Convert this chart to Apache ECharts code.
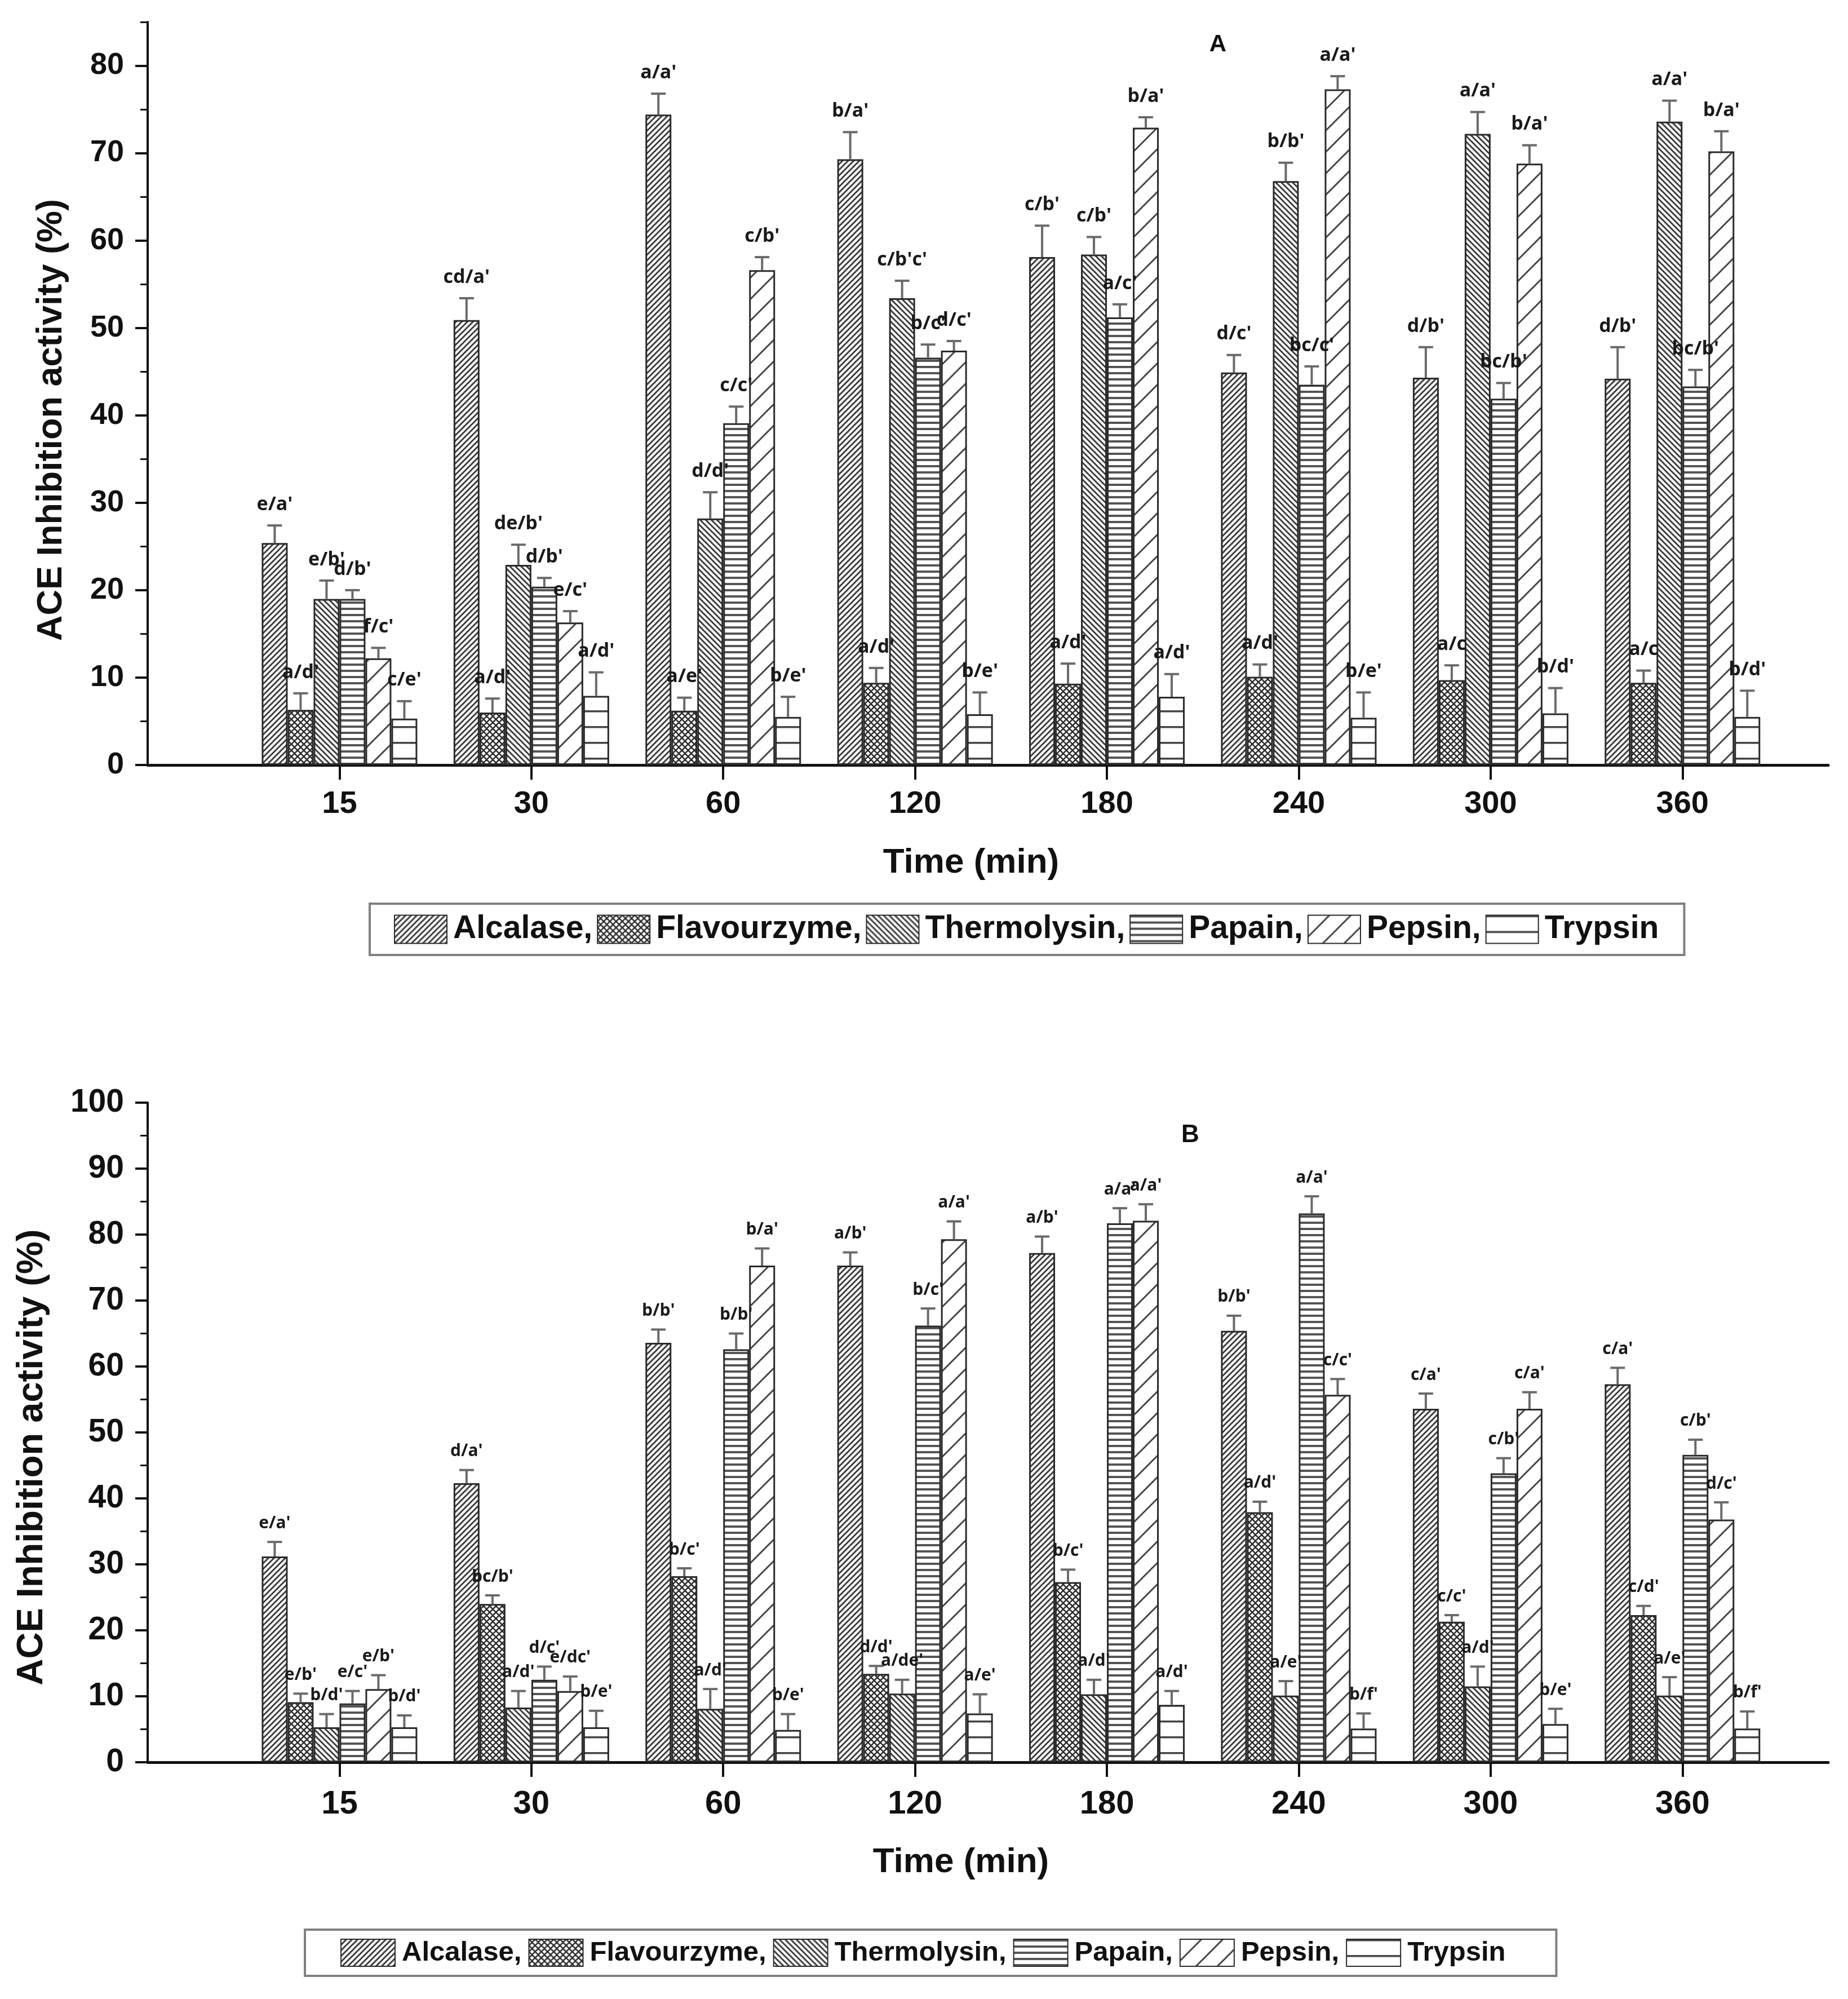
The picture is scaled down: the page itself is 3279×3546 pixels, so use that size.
<!DOCTYPE html>
<html><head><meta charset="utf-8">
<script src="https://cdn.jsdelivr.net/npm/echarts@6/dist/echarts.min.js"></script>
<style>html,body{margin:0;padding:0;background:#fff}#chart{width:3279px;height:3546px}</style>
</head><body><div id="chart"></div>
<script>
// ---------- data ----------
const timeLabels = ['15', '30', '60', '120', '180', '240', '300', '360'];
const enzymes = ['Alcalase', 'Flavourzyme', 'Thermolysin', 'Papain', 'Pepsin', 'Trypsin'];
const yTicksA = [0, 10, 20, 30, 40, 50, 60, 70, 80];
const yTicksB = [0, 10, 20, 30, 40, 50, 60, 70, 80, 90, 100];

// Panel A
const A_alcalase    = [25.4, 50.9, 74.4, 69.3, 58.1, 44.9, 44.3, 44.2];
const A_flavourzyme = [6.3, 6.0, 6.2, 9.4, 9.3, 10.1, 9.7, 9.4];
const A_thermolysin = [19.0, 22.9, 28.2, 53.4, 58.4, 66.8, 72.2, 73.6];
const A_papain      = [19.0, 20.4, 39.1, 46.6, 51.2, 43.5, 41.9, 43.3];
const A_pepsin      = [12.2, 16.3, 56.6, 47.4, 72.9, 77.3, 68.8, 70.2];
const A_trypsin     = [5.3, 7.9, 5.5, 5.8, 7.8, 5.4, 5.9, 5.5];

const A_alcalase_err    = [2.0, 2.5, 2.4, 3.1, 3.6, 2.0, 3.5, 3.6];
const A_flavourzyme_err = [1.9, 1.6, 1.5, 1.7, 2.3, 1.4, 1.7, 1.4];
const A_thermolysin_err = [2.1, 2.3, 3.0, 2.0, 2.0, 2.1, 2.5, 2.4];
const A_papain_err      = [1.0, 1.0, 1.9, 1.5, 1.5, 2.1, 1.8, 1.9];
const A_pepsin_err      = [1.2, 1.3, 1.5, 1.1, 1.2, 1.5, 2.1, 2.3];
const A_trypsin_err     = [2.0, 2.7, 2.3, 2.5, 2.6, 2.9, 2.9, 3.0];

const A_alcalase_sig    = ["e/a'", "cd/a'", "a/a'", "b/a'", "c/b'", "d/c'", "d/b'", "d/b'"];
const A_flavourzyme_sig = ["a/d'", "a/d'", "a/e'", "a/d'", "a/d'", "a/d'", "a/c", "a/c"];
const A_thermolysin_sig = ["e/b'", "de/b'", "d/d'", "c/b'c'", "c/b'", "b/b'", "a/a'", "a/a'"];
const A_papain_sig      = ["d/b'", "d/b'", "c/c'", "b/c'", "a/c'", "bc/c'", "bc/b'", "bc/b'"];
const A_pepsin_sig      = ["f/c'", "e/c'", "c/b'", "d/c'", "b/a'", "a/a'", "b/a'", "b/a'"];
const A_trypsin_sig     = ["c/e'", "a/d'", "b/e'", "b/e'", "a/d'", "b/e'", "b/d'", "b/d'"];

// Panel B
const B_alcalase    = [31.2, 42.3, 63.6, 75.3, 77.2, 65.4, 53.6, 57.3];
const B_flavourzyme = [9.1, 24.0, 28.2, 13.4, 27.3, 37.9, 21.3, 22.3];
const B_thermolysin = [5.3, 8.3, 8.1, 10.4, 10.3, 10.1, 11.5, 10.1];
const B_papain      = [8.9, 12.5, 62.6, 66.2, 81.7, 83.2, 43.8, 46.6];
const B_pepsin      = [11.1, 10.8, 75.3, 79.3, 82.1, 55.7, 53.6, 36.8];
const B_trypsin     = [5.3, 5.3, 4.9, 7.4, 8.7, 5.1, 5.8, 5.1];

const B_alcalase_err    = [2.2, 2.0, 2.0, 2.0, 2.5, 2.3, 2.3, 2.5];
const B_flavourzyme_err = [1.3, 1.3, 1.2, 1.2, 1.9, 1.6, 1.0, 1.4];
const B_thermolysin_err = [2.0, 2.5, 3.0, 2.1, 2.2, 2.2, 3.0, 2.8];
const B_papain_err      = [1.9, 2.0, 2.4, 2.6, 2.3, 2.6, 2.3, 2.3];
const B_pepsin_err      = [2.1, 2.2, 2.6, 2.7, 2.5, 2.4, 2.5, 2.6];
const B_trypsin_err     = [1.8, 2.5, 2.4, 2.9, 2.1, 2.3, 2.3, 2.6];

const B_alcalase_sig    = ["e/a'", "d/a'", "b/b'", "a/b'", "a/b'", "b/b'", "c/a'", "c/a'"];
const B_flavourzyme_sig = ["e/b'", "bc/b'", "b/c'", "d/d'", "b/c'", "a/d'", "c/c'", "c/d'"];
const B_thermolysin_sig = ["b/d'", "a/d'", "a/d'", "a/de'", "a/d'", "a/e'", "a/d'", "a/e'"];
const B_papain_sig      = ["e/c'", "d/c'", "b/b'", "b/c'", "a/a'", "a/a'", "c/b'", "c/b'"];
const B_pepsin_sig      = ["e/b'", "e/dc'", "b/a'", "a/a'", "a/a'", "c/c'", "c/a'", "d/c'"];
const B_trypsin_sig     = ["b/d'", "b/e'", "b/e'", "a/e'", "a/d'", "b/f'", "b/e'", "b/f'"];

// ---------- grouping ----------
const A_vals = [A_alcalase, A_flavourzyme, A_thermolysin, A_papain, A_pepsin, A_trypsin];
const A_errs = [A_alcalase_err, A_flavourzyme_err, A_thermolysin_err, A_papain_err, A_pepsin_err, A_trypsin_err];
const A_sigs = [A_alcalase_sig, A_flavourzyme_sig, A_thermolysin_sig, A_papain_sig, A_pepsin_sig, A_trypsin_sig];
const B_vals = [B_alcalase, B_flavourzyme, B_thermolysin, B_papain, B_pepsin, B_trypsin];
const B_errs = [B_alcalase_err, B_flavourzyme_err, B_thermolysin_err, B_papain_err, B_pepsin_err, B_trypsin_err];
const B_sigs = [B_alcalase_sig, B_flavourzyme_sig, B_thermolysin_sig, B_papain_sig, B_pepsin_sig, B_trypsin_sig];

// ---------- patterns ----------
function diag(s, lw, color, fwd, back) {
  const c = document.createElement('canvas');
  c.width = s; c.height = s;
  const g = c.getContext('2d');
  g.fillStyle = '#fff'; g.fillRect(0, 0, s, s);
  g.strokeStyle = color; g.lineWidth = lw; g.lineCap = 'square';
  g.beginPath();
  for (const x0 of [-s, 0, s]) {
    if (fwd) { g.moveTo(x0, s); g.lineTo(x0 + s, 0); }
    if (back) { g.moveTo(x0, 0); g.lineTo(x0 + s, s); }
  }
  g.stroke();
  return { image: c, repeat: 'repeat' };
}
function horiz(p, t, color) {
  const c = document.createElement('canvas');
  c.width = 4; c.height = p;
  const g = c.getContext('2d');
  g.fillStyle = '#fff'; g.fillRect(0, 0, 4, p);
  g.fillStyle = color; g.fillRect(0, 0, 4, t);
  return { image: c, repeat: 'repeat' };
}
const fills = [
  diag(10, 3, '#3c3c3c', true, false),   // Alcalase
  diag(11, 2.6, '#2e2e2e', true, true),  // Flavourzyme
  diag(10, 3, '#3c3c3c', false, true),   // Thermolysin
  horiz(11, 4, '#555'),                  // Papain
  diag(38, 3, '#444', true, false),      // Pepsin
  horiz(28, 3.5, '#444')                 // Trypsin
];

const BAR_W = 46;

function barSeries(vals, xi, yi) {
  return enzymes.map((name, k) => ({
    name, type: 'bar', xAxisIndex: xi, yAxisIndex: yi,
    barWidth: BAR_W, barGap: '0%',
    data: vals[k].map((v, i) => [i + 1, v]),
    itemStyle: { color: fills[k], borderColor: '#2a2a2a', borderWidth: 3 },
    emphasis: { disabled: true }, silent: true, z: 2
  }));
}

function errSeries(vals, errs, sigs, xi, yi, fontSize, gap) {
  const data = [];
  for (let k = 0; k < 6; k++) for (let i = 0; i < 8; i++) data.push([i + 1, vals[k][i], errs[k][i], k, i]);
  return {
    type: 'custom', xAxisIndex: xi, yAxisIndex: yi, z: 5, silent: true, clip: false,
    encode: { x: 0, y: 1 }, data,
    renderItem(params, api) {
      const x = api.value(0), v = api.value(1), e = api.value(2), k = api.value(3), i = api.value(4);
      const base = api.coord([x, v]);
      const top = api.coord([x, v + e]);
      const cx = base[0] + (k - 2.5) * BAR_W;
      const cap = 13;
      return {
        type: 'group', children: [
          { type: 'line', shape: { x1: cx, y1: base[1], x2: cx, y2: top[1] }, style: { stroke: '#6a6a6a', lineWidth: 4 } },
          { type: 'line', shape: { x1: cx - cap, y1: top[1], x2: cx + cap, y2: top[1] }, style: { stroke: '#6a6a6a', lineWidth: 4 } },
          { type: 'text', style: { text: sigs[k][i], x: cx, y: top[1] - gap, align: 'center', verticalAlign: 'bottom',
              fontSize, fontWeight: 'bold', fontFamily: '"Open Sans", sans-serif', fill: '#1a1a1a' } }
        ]
      };
    }
  };
}

const axisFont = 'Liberation Sans';
function xAxisCfg(gi, fs, margin) {
  return {
    type: 'value', gridIndex: gi, min: 0, max: 8.76,
    axisLine: { show: true, onZero: false, lineStyle: { color: '#111', width: 5 } },
    axisTick: { show: true, inside: false, length: 26, customValues: [1, 2, 3, 4, 5, 6, 7, 8], lineStyle: { color: '#111', width: 4 } },
    axisLabel: { show: true, customValues: [1, 2, 3, 4, 5, 6, 7, 8], margin,
      formatter: v => timeLabels[Math.round(v) - 1] || '',
      fontSize: fs, fontWeight: 'bold', fontFamily: axisFont, color: '#111' },
    splitLine: { show: false }
  };
}
function yAxisCfg(gi, max, ticks, fs) {
  return {
    type: 'value', gridIndex: gi, min: 0, max, interval: 10,
    axisLine: { show: true, onZero: false, lineStyle: { color: '#111', width: 4 } },
    axisTick: { show: true, inside: false, length: 22, customValues: ticks, lineStyle: { color: '#111', width: 4 } },
    axisLabel: { show: true, customValues: ticks, margin: 42, fontSize: fs, fontWeight: 'bold', fontFamily: axisFont, color: '#111' },
    splitLine: { show: false }
  };
}
function yMinorCfg(gi, max, minor) {
  return {
    type: 'value', gridIndex: gi, min: 0, max, interval: 5, position: 'left',
    axisLine: { show: false },
    axisTick: { show: true, inside: false, length: 13, customValues: minor, lineStyle: { color: '#111', width: 3 } },
    axisLabel: { show: false },
    splitLine: { show: false }
  };
}
const minorA = [5, 15, 25, 35, 45, 55, 65, 75, 85];
const minorB = [5, 15, 25, 35, 45, 55, 65, 75, 85, 95];

function legendCfg(left, top, iw, ih, fs, gap, pad, tpad) {
  return {
    data: enzymes, left, top, orient: 'horizontal', icon: 'rect',
    itemWidth: iw, itemHeight: ih, itemGap: gap, padding: pad,
    borderColor: '#808080', borderWidth: 4, selectedMode: false,
    formatter: n => (n === 'Trypsin' ? n : n + ','),
    textStyle: { fontSize: fs, fontWeight: 'bold', fontFamily: axisFont, color: '#111', padding: [0, 0, 0, tpad] }
  };
}

const titleFont = (fs) => ({ fontSize: fs, fontWeight: 'bold', fontFamily: axisFont, fill: '#111', align: 'center', verticalAlign: 'middle' });

const chart = echarts.init(document.getElementById('chart'), null, { renderer: 'canvas' });
chart.setOption({
  animation: false,
  backgroundColor: '#fff',
  grid: [
    { left: 262, top: 39, right: 35, height: 1318 },
    { left: 262, top: 1956, right: 35, height: 1170 }
  ],
  xAxis: [xAxisCfg(0, 56, 42), xAxisCfg(1, 58, 46)],
  yAxis: [yAxisCfg(0, 85, yTicksA, 54), yAxisCfg(1, 100, yTicksB, 57), yMinorCfg(0, 85, minorA), yMinorCfg(1, 100, minorB)],
  legend: [
    legendCfg(656, 1603, 93, 50, 57, 8, [17, 45, 17, 43], 6),
    legendCfg(541, 3423, 96, 48, 49, 12, [16, 90, 16, 63], 7)
  ],
  graphic: [
    { type: 'text', x: 92, y: 745, rotation: Math.PI / 2, style: Object.assign({ text: 'ACE Inhibition activity (%)' }, titleFont(63)) },
    { type: 'text', x: 57, y: 2585, rotation: Math.PI / 2, style: Object.assign({ text: 'ACE Inhibition activity (%)' }, titleFont(65)) },
    { type: 'text', x: 1723, y: 1531, style: Object.assign({ text: 'Time (min)' }, titleFont(62)) },
    { type: 'text', x: 1705, y: 3304, style: Object.assign({ text: 'Time (min)' }, titleFont(62)) },
    { type: 'text', x: 2161, y: 79, style: Object.assign({ text: 'A' }, titleFont(42)) },
    { type: 'text', x: 2112, y: 2014, style: Object.assign({ text: 'B' }, titleFont(44)) }
  ],
  series: [
    ...barSeries(A_vals, 0, 0),
    ...barSeries(B_vals, 1, 1),
    errSeries(A_vals, A_errs, A_sigs, 0, 0, 34, 20),
    errSeries(B_vals, B_errs, B_sigs, 1, 1, 30, 18)
  ]
});
</script>
</body></html>
